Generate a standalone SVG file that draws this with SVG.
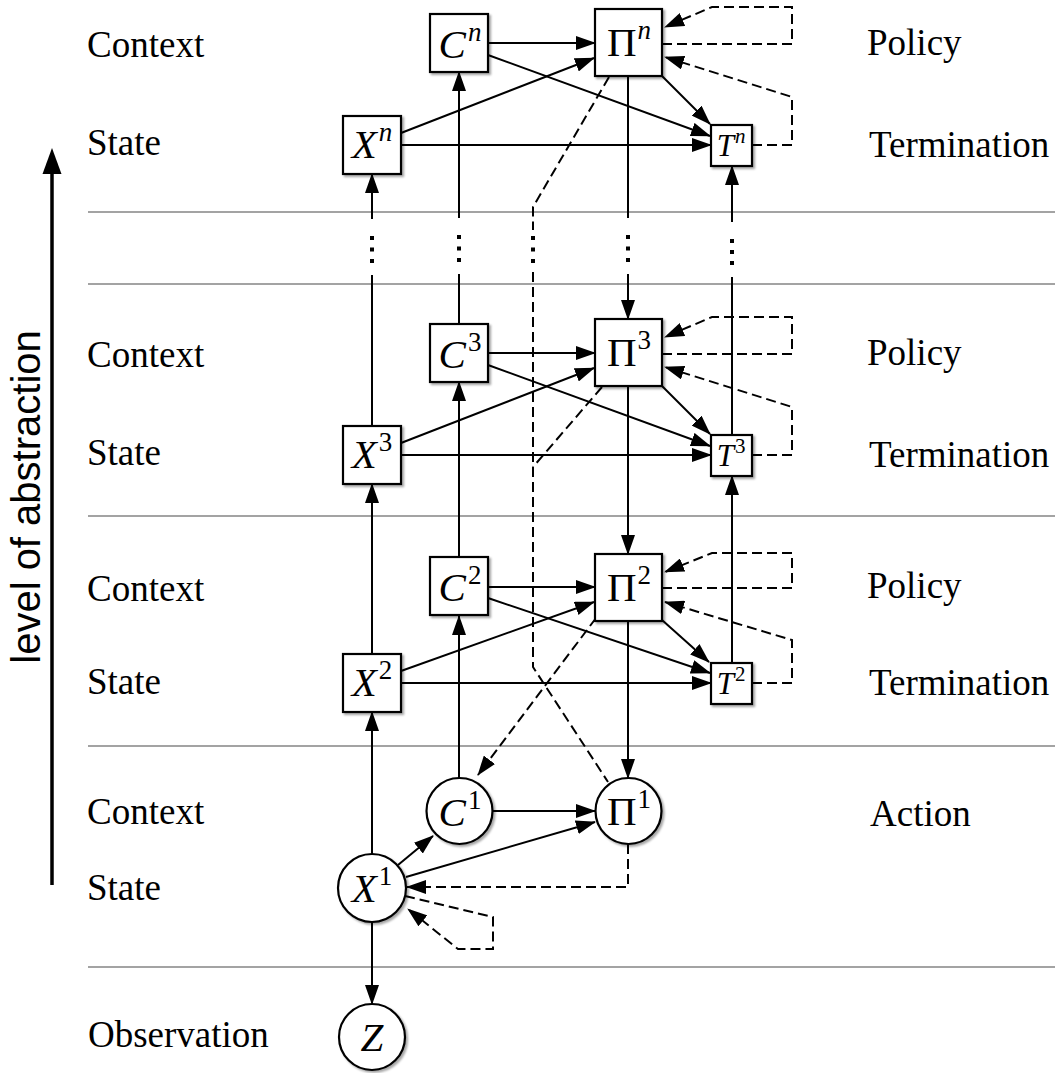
<svg xmlns="http://www.w3.org/2000/svg" width="1059" height="1073" viewBox="0 0 1059 1073">
  <defs>
    <style>
      .node { fill: #fff; stroke: #000; stroke-width: 2.2; filter: url(#shadow); }
      .edge { fill: none; stroke: #000; stroke-width: 2; marker-end: url(#arrow); }
      .line { fill: none; stroke: #000; stroke-width: 2; }
      .dash { fill: none; stroke: #000; stroke-width: 2; stroke-dasharray: 10 5; }
      .dasharrow { marker-end: url(#arrow); }
      .sep { stroke: #a3a3a3; stroke-width: 2; }
      .dot { fill: #000; }
      .lbl { font-family: "Liberation Serif", "Times New Roman", serif; font-size: 37px; fill: #000; }
      .math { font-family: "Liberation Serif", "Times New Roman", serif; font-style: italic; font-size: 41px; fill: #000; }
      .small { font-size: 31px; }
      .upright { font-style: normal; }
      .sup { font-size: 27px; }
      .small .sup { font-size: 21px; }
      .axis { font-family: "Liberation Sans", Arial, sans-serif; font-size: 40px; fill: #000; }
    </style>
    <filter id="shadow" x="-20%" y="-20%" width="150%" height="150%">
      <feDropShadow dx="2" dy="2" stdDeviation="1.3" flood-color="#000" flood-opacity="0.35"/>
    </filter>
    <marker id="arrow" viewBox="0 0 20 14" refX="19" refY="7" markerWidth="20" markerHeight="14" markerUnits="userSpaceOnUse" orient="auto">
      <path d="M0,0 L20,7 L0,14 z" fill="#000" stroke="none"/>
    </marker>
  </defs>

  <rect x="0" y="0" width="1059" height="1073" fill="#fff"/>

  <!-- level separators -->
  <g id="separators">
    <line class="sep" x1="88" y1="212" x2="1055" y2="212"/>
    <line class="sep" x1="88" y1="284" x2="1055" y2="284"/>
    <line class="sep" x1="88" y1="516" x2="1055" y2="516"/>
    <line class="sep" x1="88" y1="746" x2="1055" y2="746"/>
    <line class="sep" x1="88" y1="967" x2="1055" y2="967"/>
  </g>

  <!-- abstraction axis -->
  <g id="axis">
    <line x1="52" y1="885" x2="52" y2="174" stroke="#000" stroke-width="3.5"/>
    <path d="M52,148 L61.5,174 L42.5,174 z" fill="#000"/>
    <text class="axis" transform="translate(40,497) rotate(-90)" text-anchor="middle">level of abstraction</text>
  </g>

  <!-- row labels -->
  <g id="labels">
    <text class="lbl" x="87" y="57">Context</text>
    <text class="lbl" x="87" y="155">State</text>
    <text class="lbl" x="867" y="55">Policy</text>
    <text class="lbl" x="869" y="157">Termination</text>

    <text class="lbl" x="87" y="367">Context</text>
    <text class="lbl" x="87" y="465">State</text>
    <text class="lbl" x="867" y="365">Policy</text>
    <text class="lbl" x="869" y="467">Termination</text>

    <text class="lbl" x="87" y="601">Context</text>
    <text class="lbl" x="87" y="694">State</text>
    <text class="lbl" x="867" y="598">Policy</text>
    <text class="lbl" x="869" y="695">Termination</text>

    <text class="lbl" x="87" y="824">Context</text>
    <text class="lbl" x="87" y="900">State</text>
    <text class="lbl" x="870" y="826">Action</text>

    <text class="lbl" x="88" y="1047">Observation</text>
  </g>

  <!-- connectors -->
  <g id="connectors">
    <!-- level n -->
    <path class="edge" d="M488,43 L595,43"/>
    <path class="edge" d="M488,55 L710,136"/>
    <path class="edge" d="M401,133 L594,58"/>
    <path class="edge" d="M401,145 L711,145"/>
    <path class="edge" d="M662,76 L710,124"/>
    <path class="dash dasharrow" d="M662,44 H792 V7 H712 L665,27"/>
    <path class="dash dasharrow" d="M752,145 H792 V97 L665,57"/>

    <!-- level 3 -->
    <path class="edge" d="M488,353 L595,353"/>
    <path class="edge" d="M488,365 L710,446"/>
    <path class="edge" d="M401,443 L594,368"/>
    <path class="edge" d="M401,455 L711,455"/>
    <path class="edge" d="M662,386 L710,434"/>
    <path class="dash dasharrow" d="M662,354 H792 V317 H712 L665,337"/>
    <path class="dash dasharrow" d="M752,455 H792 V407 L665,367"/>

    <!-- level 2 -->
    <path class="edge" d="M488,587 L595,587"/>
    <path class="edge" d="M488,598 L710,673"/>
    <path class="edge" d="M401,671 L594,602"/>
    <path class="edge" d="M401,683 L711,683"/>
    <path class="edge" d="M662,620 L709,662"/>
    <path class="dash dasharrow" d="M662,588 H792 V553 H712 L665,572"/>
    <path class="dash dasharrow" d="M752,683 H792 V640 L665,602"/>

    <!-- level 1 -->
    <path class="edge" d="M492,811 L595,811"/>
    <path class="edge" d="M398,865 L433,836"/>
    <path class="edge" d="M406,877 L595,822"/>
    <path class="dash dasharrow" d="M628,844 V887 H407"/>
    <path class="dash dasharrow" d="M405,896 L493,917 V949 H458 L408,909"/>
    <path class="edge" d="M372,922 V1004"/>

    <!-- links between levels -->
    <path class="edge" d="M372,854 V712"/>
    <path class="edge" d="M459,778 V616"/>
    <path class="edge" d="M628,621 V778"/>
    <path class="edge" d="M372,654 V484"/>
    <path class="edge" d="M459,557 V382"/>
    <path class="edge" d="M628,386 V554"/>
    <path class="edge" d="M732,663 V476"/>

    <path class="line" d="M372,426 V275"/>
    <path class="edge" d="M372,219 V174"/>
    <path class="line" d="M459,324 V274"/>
    <path class="edge" d="M459,218 V72"/>
    <path class="line" d="M628,76 V218"/>
    <path class="edge" d="M628,274 V319"/>
    <path class="line" d="M732,435 V277"/>
    <path class="edge" d="M732,222 V166"/>

    <!-- policy feedback lines -->
    <path class="dash" d="M609,77 L533,207 V230"/>
    <path class="dash" d="M533,272 V667 L608,782"/>
    <path class="dash" d="M602,387 L533,467"/>
    <path class="dash dasharrow" d="M596,618 L478,775"/>

    <!-- elided levels -->
    <g class="dot">
      <rect x="370" y="236" width="4" height="4"/>
      <rect x="370" y="247.5" width="4" height="4"/>
      <rect x="370" y="259" width="4" height="4"/>
      <rect x="457" y="235" width="4" height="4"/>
      <rect x="457" y="246.5" width="4" height="4"/>
      <rect x="457" y="258" width="4" height="4"/>
      <rect x="531" y="236" width="4" height="4"/>
      <rect x="531" y="247.5" width="4" height="4"/>
      <rect x="531" y="259" width="4" height="4"/>
      <rect x="626" y="235" width="4" height="4"/>
      <rect x="626" y="246.5" width="4" height="4"/>
      <rect x="626" y="258" width="4" height="4"/>
      <rect x="730" y="239" width="4" height="4"/>
      <rect x="730" y="250" width="4" height="4"/>
      <rect x="730" y="261" width="4" height="4"/>
    </g>
  </g>

  <!-- level n -->
  <g id="Cn">
    <rect class="node" x="430" y="14" width="58" height="58"/>
    <text class="math" x="460" y="58" text-anchor="middle">C<tspan class="sup" dx="2" dy="-17">n</tspan></text>
  </g>
  <g id="Pin">
    <rect class="node" x="595" y="9" width="67" height="67"/>
    <text class="math" x="629" y="56" text-anchor="middle"><tspan class="upright">Π</tspan><tspan class="sup" dx="1" dy="-17">n</tspan></text>
  </g>
  <g id="Xn">
    <rect class="node" x="343" y="116" width="58" height="58"/>
    <text class="math" x="372" y="158" text-anchor="middle">X<tspan class="sup" dx="2" dy="-17">n</tspan></text>
  </g>
  <g id="Tn">
    <rect class="node" x="711" y="125" width="41" height="41"/>
    <text class="math small" x="731" y="156" text-anchor="middle">T<tspan class="sup" dx="1" dy="-13">n</tspan></text>
  </g>

  <!-- level 3 -->
  <g id="C3">
    <rect class="node" x="430" y="324" width="58" height="58"/>
    <text class="math" x="460" y="368" text-anchor="middle">C<tspan class="sup upright" dx="2" dy="-17">3</tspan></text>
  </g>
  <g id="Pi3">
    <rect class="node" x="595" y="319" width="67" height="67"/>
    <text class="math" x="629" y="366" text-anchor="middle"><tspan class="upright">Π</tspan><tspan class="sup upright" dx="1" dy="-17">3</tspan></text>
  </g>
  <g id="X3">
    <rect class="node" x="343" y="426" width="58" height="58"/>
    <text class="math" x="372" y="468" text-anchor="middle">X<tspan class="sup upright" dx="2" dy="-17">3</tspan></text>
  </g>
  <g id="T3">
    <rect class="node" x="711" y="435" width="41" height="41"/>
    <text class="math small" x="731" y="466" text-anchor="middle">T<tspan class="sup upright" dx="1" dy="-13">3</tspan></text>
  </g>

  <!-- level 2 -->
  <g id="C2">
    <rect class="node" x="430" y="557" width="58" height="58"/>
    <text class="math" x="460" y="601" text-anchor="middle">C<tspan class="sup upright" dx="2" dy="-17">2</tspan></text>
  </g>
  <g id="Pi2">
    <rect class="node" x="595" y="554" width="67" height="67"/>
    <text class="math" x="629" y="601" text-anchor="middle"><tspan class="upright">Π</tspan><tspan class="sup upright" dx="1" dy="-17">2</tspan></text>
  </g>
  <g id="X2">
    <rect class="node" x="343" y="654" width="58" height="58"/>
    <text class="math" x="372" y="696" text-anchor="middle">X<tspan class="sup upright" dx="2" dy="-17">2</tspan></text>
  </g>
  <g id="T2">
    <rect class="node" x="711" y="663" width="41" height="41"/>
    <text class="math small" x="731" y="694" text-anchor="middle">T<tspan class="sup upright" dx="1" dy="-13">2</tspan></text>
  </g>

  <!-- level 1 -->
  <g id="C1">
    <circle class="node" cx="459.5" cy="811" r="33"/>
    <text class="math" x="460" y="826" text-anchor="middle">C<tspan class="sup upright" dx="2" dy="-17">1</tspan></text>
  </g>
  <g id="Pi1">
    <circle class="node" cx="628.5" cy="811" r="33"/>
    <text class="math" x="629" y="825" text-anchor="middle"><tspan class="upright">Π</tspan><tspan class="sup upright" dx="1" dy="-17">1</tspan></text>
  </g>
  <g id="X1">
    <circle class="node" cx="372" cy="888" r="34"/>
    <text class="math" x="372" y="902" text-anchor="middle">X<tspan class="sup upright" dx="2" dy="-17">1</tspan></text>
  </g>

  <!-- observation -->
  <g id="Z">
    <circle class="node" cx="372" cy="1037" r="33"/>
    <text class="math" x="372" y="1051" text-anchor="middle">Z</text>
  </g>
</svg>
